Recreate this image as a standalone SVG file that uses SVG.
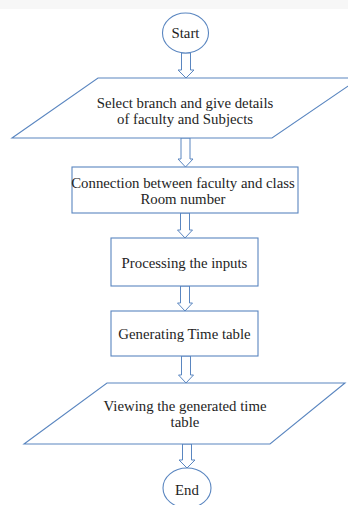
<svg xmlns="http://www.w3.org/2000/svg" width="348" height="505" viewBox="0 0 348 505">
<style>
.s{fill:#fff;stroke:#5a86c0;stroke-width:1.1}
.a{fill:#fff;stroke:#5a86c0;stroke-width:1}
.t{font-family:"Liberation Serif","Times New Roman",serif;font-size:14.8px;fill:#1e1e1e;text-anchor:middle}
</style>
<rect x="0" y="0" width="348" height="505" fill="#fff"/>
<rect x="0" y="0" width="348" height="9" fill="#f7f7f7"/>
<g id="connectors">
<path class="a" d="M181.5,53V70H178L186,78L194,70H190.5V53Z"/>
<path class="a" d="M181,138V159H178L185.5,167L193,159H190V138Z"/>
<path class="a" d="M180.5,213V230H177.5L185,238L192.5,230H189.5V213Z"/>
<path class="a" d="M180.5,286V303H177.5L185,311L192.5,303H189.5V286Z"/>
<path class="a" d="M181.5,356V375H178.5L186,383L193.5,375H190.5V356Z"/>
<path class="a" d="M182.5,444V460H179L187,468L195,460H191.5V444Z"/>
</g>
<g id="start">
<ellipse class="s" cx="185.5" cy="33" rx="23" ry="20"/>
<text class="t" x="185.5" y="38">Start</text>
</g>
<g id="input">
<polygon class="s" points="98,78 360,78 272,138 12,138"/>
<text class="t" x="185" y="108">Select branch and give details</text>
<text class="t" x="185" y="124">of faculty and Subjects</text>
</g>
<g id="connection">
<rect class="s" x="72" y="167" width="226" height="46"/>
<text class="t" x="183" y="187.5">Connection between faculty and class</text>
<text class="t" x="183" y="203.5">Room number</text>
</g>
<g id="processing">
<rect class="s" x="111" y="238" width="147" height="48"/>
<text class="t" x="184.5" y="268">Processing the inputs</text>
</g>
<g id="generating">
<rect class="s" x="111" y="311" width="147" height="45"/>
<text class="t" x="184.5" y="339">Generating Time table</text>
</g>
<g id="viewing">
<polygon class="s" points="107,383 345,383 270,444 24,444"/>
<text class="t" x="185" y="411">Viewing the generated time</text>
<text class="t" x="185" y="427">table</text>
</g>
<g id="end">
<ellipse class="s" cx="187" cy="488" rx="24" ry="20"/>
<text class="t" x="187" y="495">End</text>
</g>
</svg>
